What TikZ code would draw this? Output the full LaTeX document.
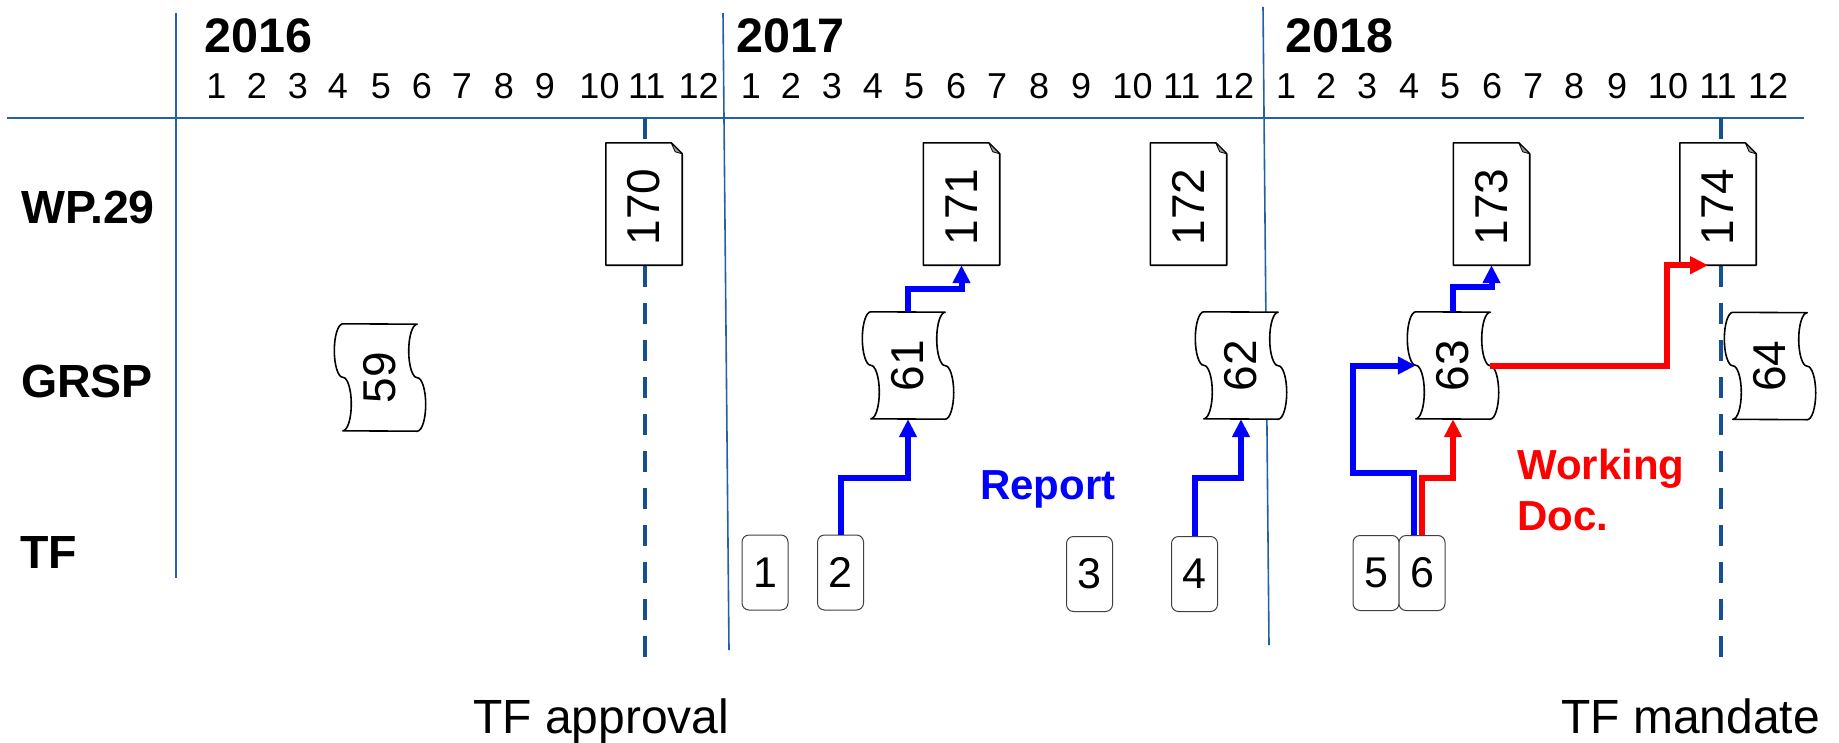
\documentclass[tikz,border=0pt]{standalone}
\usepackage{fontspec}
\setmainfont{Liberation Sans}
\usetikzlibrary{arrows.meta}
\definecolor{gridblue}{RGB}{36,96,166}
\definecolor{dashblue}{RGB}{22,80,145}
\definecolor{arrblue}{RGB}{0,0,255}
\definecolor{arrred}{RGB}{255,0,0}

\newcommand\scrollnode[3]{%
  \node[scrollbox] (#1) at (#2) {};
  \filldraw[shapeline] (#1.north west)
     arc[start angle=90, end angle=270, x radius=8.5pt, y radius=26.75pt]
     arc[start angle=90, end angle=-90, x radius=8.5pt, y radius=26.75pt]
     -- (#1.south east)
     arc[start angle=-90, end angle=90, x radius=8.5pt, y radius=26.75pt]
     arc[start angle=270, end angle=90, x radius=8.5pt, y radius=26.75pt]
     -- cycle;
  \node[rottext] (#1t) at (#1) {#3};
}
\newcommand\docnode[3]{%
  \node[docbox] (#1) at (#2) {};
  \filldraw[shapeline] (#1.north west) -- ([xshift=-11pt]#1.north east)
     -- ([yshift=-11pt]#1.north east) -- (#1.south east) -- (#1.south west) -- cycle;
  \filldraw[foldline] ([xshift=-11pt]#1.north east) -- ([xshift=-7pt,yshift=-9pt]#1.north east)
     -- ([yshift=-11pt]#1.north east) -- cycle;
  \node[rottext, xshift=-3pt] (#1t) at (#1) {#3};
}

\begin{document}
\begin{tikzpicture}[x=1pt,y=-1pt,
  shapeline/.style={draw=black, line width=1.6pt, fill=white, line join=round},
  foldline/.style={draw=black, line width=0.8pt, fill=black!40, line join=round},
  docbox/.style={rectangle, minimum width=76pt, minimum height=122pt, inner sep=0pt, draw=none},
  scrollbox/.style={rectangle, minimum width=74pt, minimum height=107pt, inner sep=0pt, draw=none},
  rottext/.style={rotate=90, inner sep=0pt, font=\fontsize{46}{55}\selectfont},
  tfbox/.style={rectangle, rounded corners=7pt, draw=black!75, line width=1pt, fill=white,
                minimum width=46pt, minimum height=75pt, inner sep=0pt, font=\fontsize{43}{51}\selectfont},
  bluearr/.style={draw=arrblue, line width=6pt, -{Triangle[length=18pt,width=17pt]}},
  redarr/.style={draw=arrred, line width=6pt, -{Triangle[length=18pt,width=17pt]}},
  gridline/.style={draw=gridblue, line width=1.6pt},
  dashline/.style={draw=dashblue, line width=4.5pt, dash pattern=on 21pt off 16pt},
  monthtext/.style={anchor=base, inner sep=0pt, font=\fontsize{36}{43}\selectfont},
  yeartext/.style={anchor=base west, inner sep=0pt, font=\fontsize{48.5}{58}\selectfont\bfseries},
  rowtext/.style={anchor=base west, inner sep=0pt, font=\fontsize{46.5}{56}\selectfont\bfseries},
  bottomtext/.style={anchor=base west, inner sep=0pt, font=\fontsize{48}{58}\selectfont},
  labeltext/.style={inner sep=0pt, font=\fontsize{42}{51}\selectfont\bfseries, align=left}
]
\fill[white] (0,0) rectangle (1839,742);
\useasboundingbox (0,0) rectangle (1839,742);

% grid
\coordinate (g16t) at (176,13);   \coordinate (g16b) at (176,578);
\coordinate (g17t) at (723,13);   \coordinate (g17b) at (729,650);
\coordinate (g18t) at (1263,7);   \coordinate (g18b) at (1269,645);
\coordinate (hl) at (7,118);      \coordinate (hr) at (1804,118);
\draw[gridline] (g16t) -- (g16b);
\draw[gridline] (g17t) -- (g17b);
\draw[gridline] (g18t) -- (g18b);
\draw[gridline, line width=2.2pt] (hl) -- (hr);

% dashed milestone lines
\coordinate (dA1) at (645,118);  \coordinate (dA2) at (645,663);
\coordinate (dB1) at (1721,118); \coordinate (dB2) at (1721,663);
\draw[dashline] (dA1) -- (dA2);
\draw[dashline] (dB1) -- (dB2);

% years and months
\node[yeartext] (y2016) at (204,52) {2016};
\node[yeartext] (y2017) at (736,52) {2017};
\node[yeartext] (y2018) at (1285,52) {2018};
\foreach \x [count=\i] in {216.5,257,298,338,381,422,462,504,545,599.5,646.7,698.7}
  \node[monthtext] (ma\i) at (\x,98.5) {\i};
\foreach \x [count=\i] in {751,791,832,873,914,956,997,1039,1081,1132.5,1181.7,1234}
  \node[monthtext] (mb\i) at (\x,98.5) {\i};
\foreach \x [count=\i] in {1286,1326,1367,1409,1450,1492,1533,1574,1617,1668,1718,1768}
  \node[monthtext] (mc\i) at (\x,98.5) {\i};

% row labels
\node[rowtext] (rwp) at (21,223) {WP.29};
\node[rowtext] (rgrsp) at (21,397) {GRSP};
\node[rowtext] (rtf) at (20,568) {TF};

% WP.29 documents
\docnode{d170}{644,204}{170}
\docnode{d171}{961.5,204}{171}
\docnode{d172}{1188.5,204}{172}
\docnode{d173}{1491.5,204}{173}
\docnode{d174}{1718,204}{174}

% GRSP sessions
\scrollnode{s59}{380,377.5}{59}
\scrollnode{s61}{908,365.5}{61}
\scrollnode{s62}{1241,365.5}{62}
\scrollnode{s63}{1453,365.5}{63}
\scrollnode{s64}{1770,366}{64}

% TF meetings
\node[tfbox] (b1) at (765,572.5) {1};
\node[tfbox] (b2) at (840.5,572.5) {2};
\node[tfbox] (b3) at (1089.5,574) {3};
\node[tfbox] (b4) at (1194.5,574) {4};
\node[tfbox] (b5) at (1376,573) {5};
\node[tfbox] (b6) at (1422,573) {6};

% connectors
\draw[bluearr] (b2.north) -- ++(0,-57) -| (s61.south);
\draw[bluearr] (s61.north) -- ++(0,-23) -| (d171.south);
\draw[bluearr] (b4.north) -- ++(0,-58) -| (s62.south);
\draw[bluearr] ([xshift=-8pt]b6.north) -- ++(0,-62) -- ++(-61,0) |- (s63.west);
\draw[redarr] (b6.north) -- ++(0,-57) -| (s63.south);
\draw[bluearr] (s63.north) -- ++(0,-25) -| (d173.south);
\draw[redarr] (s63.east) -- ++(177,0) |- ([xshift=-10pt]d174.south);

% labels
\node[labeltext, anchor=base west, text=arrblue] (lrep) at (980,499) {Report};
\node[labeltext, anchor=north west, text=arrred] (lwd) at (1517,449) {Working\\Doc.};
\node[bottomtext] (lapp) at (473,733) {TF approval};
\node[bottomtext] (lman) at (1561,733) {TF mandate};
\end{tikzpicture}
\end{document}
